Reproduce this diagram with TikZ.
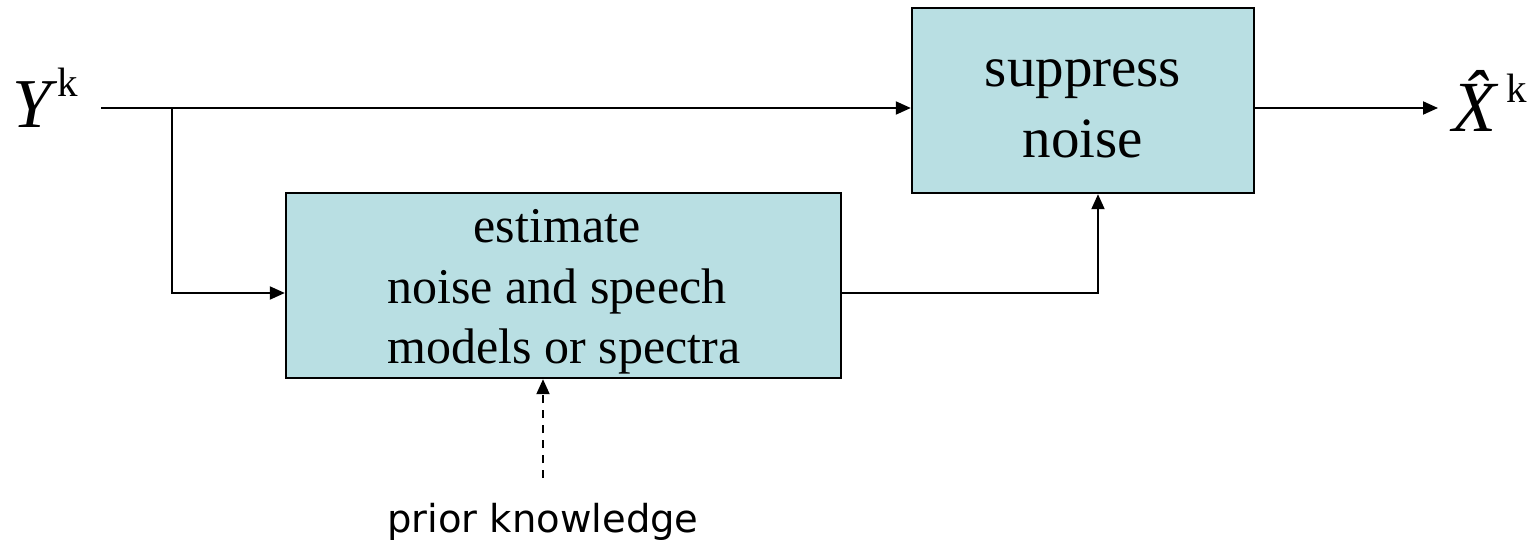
\documentclass[tikz,border=0pt]{standalone}
\usepackage{fontspec}
\setmainfont{Liberation Serif}
\newfontfamily\pkfont{DejaVu Sans}
\usetikzlibrary{arrows.meta}
\definecolor{boxfill}{RGB}{185,223,227}
\begin{document}
\begin{tikzpicture}[x=1pt,y=-1pt,
  conn/.style={line width=2pt, -{Triangle[length=15pt,width=13pt]}},
  dconn/.style={conn, dash pattern=on 8pt off 7pt},
  block/.style={draw=black, line width=2.4pt, fill=boxfill, inner sep=0pt},
  lbl/.style={anchor=base, inner sep=0pt},
  bigtxt/.style={lbl, font=\fontsize{57}{60}\selectfont},
  midtxt/.style={lbl, font=\fontsize{50}{60}\selectfont},
]
\useasboundingbox (0,0) rectangle (1539,540);
% blocks
\node[block, minimum width=342pt, minimum height=185pt] (sup) at (1083,100.5) {};
\node[block, minimum width=555pt, minimum height=185pt] (est) at (563.5,285.5) {};
% block texts
\node[bigtxt] (s1) at (1083,87) {suppress};
\node[bigtxt] (s2) at (1083,158) {noise};
\node[midtxt] (e1) at (557,243) {estimate};
\node[midtxt] (e2) at (557,303) {noise and speech};
\node[midtxt] (e3) at (564,363) {models or spectra};
% input / output labels
\node[anchor=base west, inner sep=0pt] (yk) at (12,128)
  {\fontsize{70}{70}\selectfont\itshape Y\kern6pt\raisebox{31pt}{\upshape\fontsize{41}{41}\selectfont k}};
\node[anchor=base west, inner sep=0pt] (xk) at (1452,132)
  {\fontsize{72}{72}\selectfont\itshape \^{X}\kern10pt\raisebox{29pt}{\upshape\fontsize{41}{41}\selectfont k}};
\node[lbl, font=\pkfont\fontsize{38.5}{40}\selectfont] (prior) at (543,532) {prior knowledge};
% coordinates
\coordinate (in) at (101,108);
\coordinate (br) at (172,108);
\coordinate (out) at (1438,108);
\coordinate (pk) at (543,478);
% connectors
\draw[conn] (in) -- ([yshift=-7.5pt]sup.west);
\draw[conn] (br) |- ([yshift=-7.5pt]est.west);
\draw[conn] ([yshift=-7.5pt]est.east) -| ([xshift=15pt]sup.south);
\draw[conn] ([yshift=-7.5pt]sup.east) -- (out);
\draw[dconn] (pk) -- (pk |- est.south);
\end{tikzpicture}
\end{document}
